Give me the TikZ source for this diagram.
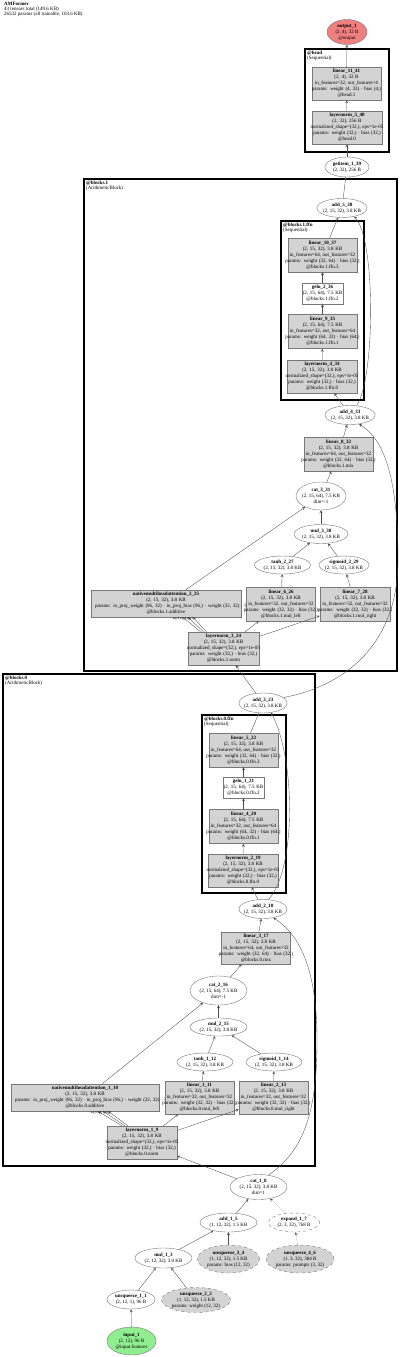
\documentclass[tikz,border=0pt]{standalone}
\usepackage{fontspec}
\setmainfont{Liberation Serif}
\usepackage{tikz}
\usetikzlibrary{shapes.geometric,arrows}

\definecolor{opgray}{RGB}{211,211,211}
\definecolor{linegray}{RGB}{120,120,120}
\definecolor{outred}{RGB}{240,128,128}
\definecolor{ingreen}{RGB}{144,238,144}
\newcommand{\nodefont}{\fontsize{5}{6}\selectfont}
\newcommand{\headfont}{\fontsize{5}{5}\selectfont}
\newcommand{\argfont}{\fontsize{3.2}{3.5}\selectfont}

\tikzset{
  opbox/.style={rectangle, draw=linegray, fill=opgray, inner ysep=0pt, inner xsep=-8pt,
    text width=85pt, minimum width=69pt, minimum height=34pt, align=center, font=\nodefont},
  opell/.style={ellipse, draw=linegray, fill=white, inner xsep=-8pt, inner ysep=-2pt,
    minimum width=50pt, minimum height=19pt, align=center, font=\nodefont},
  parell/.style={opell, fill=opgray, dashed},
  cluster/.style={draw, line width=1.5pt},
  clabel/.style={anchor=north west, align=left, inner sep=1pt, font=\headfont},
  elabel/.style={anchor=north, inner sep=0.3pt, font=\argfont},
  edge/.style={->, >=stealth, draw=black!70, line width=0.35pt},
}

\begin{document}
\begin{tikzpicture}[x=1pt, y=-1pt]
  \useasboundingbox (0,0) rectangle (400,1357);

  \node[clabel] (title) at (3,1) {\textbf{AMFormer}\\43 tensors total (149.6 KB)\\26532 params (all trainable, 103.6 KB)};

  % clusters
  \draw[cluster] (305,49) rectangle (389,152);
  \node[clabel] (headlbl) at (306,50) {\textbf{@head}\\(Sequential)};
  \draw[cluster] (84,179) rectangle (397,671);
  \node[clabel] (b1lbl) at (85,180) {\textbf{@blocks.1}\\(ArithmeticBlock)};
  \draw[cluster] (281,221) rectangle (364,400);
  \node[clabel] (b1flbl) at (282,222) {\textbf{@blocks.1.ffn}\\(Sequential)};
  \draw[cluster] (3,674) rectangle (315,1166);
  \node[clabel] (b0lbl) at (4,675) {\textbf{@blocks.0}\\(ArithmeticBlock)};
  \draw[cluster] (202,715) rectangle (286,893);
  \node[clabel] (b0flbl) at (203,716) {\textbf{@blocks.0.ffn}\\(Sequential)};

  % head
  \node[opell, fill=outred, minimum width=40pt, minimum height=25pt] (out) at (347,32) {\textbf{output\_1}\\(2, 4), 32 B\\@output};
  \node[opbox, minimum width=65pt, minimum height=33pt] (lin41) at (346.5,83.5) {\textbf{linear\_11\_41}\\(2, 4), 32 B\\in\_features=32, out\_features=4\\params: weight (4, 32) · bias (4,)\\@head.1};
  \node[opbox, minimum width=70pt, minimum height=33pt] (ln40) at (347,127.5) {\textbf{layernorm\_5\_40}\\(2, 32), 256 B\\normalized\_shape=(32,), eps=1e-05\\params: weight (32,) · bias (32,)\\@head.0};
  \node[opell, minimum width=44pt, minimum height=20pt] (get39) at (347,167) {\textbf{getitem\_1\_39}\\(2, 32), 256 B};

  % blocks.1
  \node[opell] (add38) at (342,208) {\textbf{add\_5\_38}\\(2, 15, 32), 3.8 KB};
  \node[opbox] (lin37) at (322.5,255) {\textbf{linear\_10\_37}\\(2, 15, 32), 3.8 KB\\in\_features=64, out\_features=32\\params: weight (32, 64) · bias (32,)\\@blocks.1.ffn.3};
  \node[opbox, fill=white, minimum width=41pt, minimum height=21pt, text width=57pt] (gelu36) at (322.5,293.5) {\textbf{gelu\_2\_36}\\(2, 15, 64), 7.5 KB\\@blocks.1.ffn.2};
  \node[opbox] (lin35) at (322.5,331.5) {\textbf{linear\_9\_35}\\(2, 15, 64), 7.5 KB\\in\_features=32, out\_features=64\\params: weight (64, 32) · bias (64,)\\@blocks.1.ffn.1};
  \node[opbox, minimum width=70pt, minimum height=33pt] (ln34) at (322,376.5) {\textbf{layernorm\_4\_34}\\(2, 15, 32), 3.8 KB\\normalized\_shape=(32,), eps=1e-05\\params: weight (32,) · bias (32,)\\@blocks.1.ffn.0};
  \node[opell] (add33) at (350,415) {\textbf{add\_4\_33}\\(2, 15, 32), 3.8 KB};
  \node[opbox] (lin32) at (338.5,454) {\textbf{linear\_8\_32}\\(2, 15, 32), 3.8 KB\\in\_features=64, out\_features=32\\params: weight (32, 64) · bias (32,)\\@blocks.1.mix};
  \node[opell, minimum width=50pt, minimum height=28pt] (cat31) at (321,496) {\textbf{cat\_3\_31}\\(2, 15, 64), 7.5 KB\\dim=-1};
  \node[opell, minimum width=54pt] (mul30) at (321,534) {\textbf{mul\_3\_30}\\(2, 15, 32), 3.8 KB};
  \node[opell, minimum width=56pt, minimum height=18pt] (tanh27) at (282.5,565) {\textbf{tanh\_2\_27}\\(2, 15, 32), 3.8 KB};
  \node[opell, minimum width=50pt, minimum height=18pt] (sig29) at (344,565) {\textbf{sigmoid\_2\_29}\\(2, 15, 32), 3.8 KB};
  \node[opbox, minimum width=150pt, minimum height=27pt, text width=142pt, inner xsep=4pt] (mha25) at (166,603.5) {\textbf{nativemultiheadattention\_2\_25}\\(2, 15, 32), 3.8 KB\\\mbox{params: in\_proj\_weight (96, 32) · in\_proj\_bias (96,) · weight (32, 32) · bias (32,)}\\@blocks.1.additive};
  \node[opbox, minimum width=68pt] (lin26) at (281,604) {\textbf{linear\_6\_26}\\(2, 15, 32), 3.8 KB\\in\_features=32, out\_features=32\\params: weight (32, 32) · bias (32,)\\@blocks.1.mul\_left};
  \node[opbox, minimum width=70pt] (lin28) at (355,604) {\textbf{linear\_7\_28}\\(2, 15, 32), 3.8 KB\\in\_features=32, out\_features=32\\params: weight (32, 32) · bias (32,)\\@blocks.1.mul\_right};
  \node[opbox, minimum width=71pt, minimum height=33pt] (ln24) at (223.5,648.5) {\textbf{layernorm\_3\_24}\\(2, 15, 32), 3.8 KB\\normalized\_shape=(32,), eps=1e-05\\params: weight (32,) · bias (32,)\\@blocks.1.norm};

  % blocks.0
  \node[opell, minimum width=48pt, minimum height=20pt] (add23) at (263,703) {\textbf{add\_3\_23}\\(2, 15, 32), 3.8 KB};
  \node[opbox] (lin22) at (243.5,750) {\textbf{linear\_5\_22}\\(2, 15, 32), 3.8 KB\\in\_features=64, out\_features=32\\params: weight (32, 64) · bias (32,)\\@blocks.0.ffn.3};
  \node[opbox, fill=white, minimum width=41pt, minimum height=21pt, text width=57pt] (gelu21) at (243.5,787.5) {\textbf{gelu\_1\_21}\\(2, 15, 64), 7.5 KB\\@blocks.0.ffn.2};
  \node[opbox] (lin20) at (243.5,826.5) {\textbf{linear\_4\_20}\\(2, 15, 64), 7.5 KB\\in\_features=32, out\_features=64\\params: weight (64, 32) · bias (64,)\\@blocks.0.ffn.1};
  \node[opbox, minimum width=70pt, minimum height=33pt] (ln19) at (243,870.5) {\textbf{layernorm\_2\_19}\\(2, 15, 32), 3.8 KB\\normalized\_shape=(32,), eps=1e-05\\params: weight (32,) · bias (32,)\\@blocks.0.ffn.0};
  \node[opell, minimum width=48pt] (add18) at (263,909) {\textbf{add\_2\_18}\\(2, 15, 32), 3.8 KB};
  \node[opbox, minimum width=68pt, minimum height=32pt] (lin17) at (256,948) {\textbf{linear\_3\_17}\\(2, 15, 32), 3.8 KB\\in\_features=64, out\_features=32\\params: weight (32, 64) · bias (32,)\\@blocks.0.mix};
  \node[opell, minimum width=57pt, minimum height=29pt] (cat16) at (218.5,990.5) {\textbf{cat\_2\_16}\\(2, 15, 64), 7.5 KB\\dim=-1};
  \node[opell, minimum width=57pt, minimum height=18pt] (mul15) at (218.5,1027) {\textbf{mul\_2\_15}\\(2, 15, 32), 3.8 KB};
  \node[opell, minimum width=56pt, minimum height=18pt] (tanh12) at (205,1062) {\textbf{tanh\_1\_12}\\(2, 15, 32), 3.8 KB};
  \node[opell, minimum width=56pt, minimum height=18pt] (sig14) at (274,1062) {\textbf{sigmoid\_1\_14}\\(2, 15, 32), 3.8 KB};
  \node[opbox, minimum width=148pt, minimum height=27pt, text width=140pt, inner xsep=4pt] (mha10) at (85,1097.5) {\textbf{nativemultiheadattention\_1\_10}\\(2, 15, 32), 3.8 KB\\\mbox{params: in\_proj\_weight (96, 32) · in\_proj\_bias (96,) · weight (32, 32) · bias (32,)}\\@blocks.0.additive};
  \node[opbox, minimum width=67pt, minimum height=33pt] (lin11) at (199.5,1097.5) {\textbf{linear\_1\_11}\\(2, 15, 32), 3.8 KB\\in\_features=32, out\_features=32\\params: weight (32, 32) · bias (32,)\\@blocks.0.mul\_left};
  \node[opbox, minimum height=33pt] (lin13) at (273.5,1097.5) {\textbf{linear\_2\_13}\\(2, 15, 32), 3.8 KB\\in\_features=32, out\_features=32\\params: weight (32, 32) · bias (32,)\\@blocks.0.mul\_right};
  \node[opbox, minimum width=70pt, minimum height=33pt] (ln9) at (142,1142.5) {\textbf{layernorm\_1\_9}\\(2, 15, 32), 3.8 KB\\normalized\_shape=(32,), eps=1e-05\\params: weight (32,) · bias (32,)\\@blocks.0.norm};

  % input part
  \node[opell, minimum width=57pt, minimum height=25pt] (cat8) at (258.5,1187) {\textbf{cat\_1\_8}\\(2, 15, 32), 3.8 KB\\dim=1};
  \node[opell, minimum width=57pt] (add5) at (228.5,1222.5) {\textbf{add\_1\_5}\\(1, 12, 32), 1.5 KB};
  \node[opell, dashed, minimum width=51pt] (exp7) at (294,1222.5) {\textbf{expand\_1\_7}\\(2, 3, 32), 768 B};
  \node[opell, minimum width=57pt, minimum height=20pt] (mul3) at (163.5,1258) {\textbf{mul\_1\_3}\\(2, 12, 32), 3.0 KB};
  \node[parell, minimum width=62pt, minimum height=28pt] (unsq4) at (228.5,1259) {\textbf{unsqueeze\_3\_4}\\(1, 12, 32), 1.5 KB\\params: bias (12, 32)};
  \node[parell, minimum width=68pt, minimum height=28pt] (unsq6) at (300,1259) {\textbf{unsqueeze\_4\_6}\\(1, 3, 32), 384 B\\params: prompts (3, 32)};
  \node[opell, minimum width=48pt] (unsq1) at (131,1299.5) {\textbf{unsqueeze\_1\_1}\\(2, 12, 1), 96 B};
  \node[parell, minimum width=69pt, minimum height=25pt] (unsq2) at (196,1300) {\textbf{unsqueeze\_2\_2}\\(1, 12, 32), 1.5 KB\\params: weight (12, 32)};
  \node[opell, fill=ingreen, minimum width=49pt, minimum height=28pt] (inp) at (131.5,1341) {\textbf{input\_1}\\(2, 12), 96 B\\@input.features};

  % edges
  \draw[edge] (inp) -- (unsq1);
  \draw[edge] (unsq1) -- (mul3);
  \draw[edge] (unsq2) -- (mul3);
  \draw[edge] (mul3) -- (add5);
  \draw[edge] (unsq4) -- (add5);
  \draw[edge, densely dotted] (unsq6) -- (exp7);
  \draw[edge] (add5) -- (cat8);
  \draw[edge, densely dotted] (exp7) -- (cat8);
  \draw[edge] (cat8) -- (ln9);
  \draw[edge] (cat8.50) .. controls (305,1150) and (317,1110) .. (317,1040)
    .. controls (317,970) and (300,935) .. (add18.-40);

  \foreach \i/\a/\b/\c in {0/-20/13/9, 1/-17/18/16, 2/-14/23/23} {
    \draw[edge] ([xshift=\a]ln9.north) -- ([xshift=\b]mha10.south);
    \node[elabel] (arg10\i) at ([xshift=\c]mha10.south) {arg \i};
  }
  \draw[edge] (ln9) -- (lin11);
  \draw[edge] (ln9) -- (lin13);
  \draw[edge] (lin11) -- (tanh12);
  \draw[edge] (lin13) -- (sig14);
  \draw[edge] (tanh12) -- (mul15);
  \draw[edge] (sig14) -- (mul15);
  \draw[edge] (mul15) -- (cat16);
  \draw[edge] (mha10) -- (cat16);
  \draw[edge] (cat16) -- (lin17);
  \draw[edge] (lin17) -- (add18);
  \draw[edge] (add18) -- (ln19);
  \draw[edge] (add18.60) .. controls (296,870) and (296,760) .. (add23.-50);
  \draw[edge] (ln19) -- (lin20);
  \draw[edge] (lin20) -- (gelu21);
  \draw[edge] (gelu21) -- (lin22);
  \draw[edge] (lin22) -- (add23);

  \draw[edge] (add23) -- (ln24);
  \draw[edge] (add23.15) .. controls (350,685) and (398,640) .. (398,560)
    .. controls (398,480) and (385,440) .. (add33.-45);
  \foreach \i/\a/\b/\c in {0/-23/17/10, 1/-20/22/17, 2/-17/27/24} {
    \draw[edge] ([xshift=\a]ln24.north) -- ([xshift=\b]mha25.south);
    \node[elabel] (arg25\i) at ([xshift=\c]mha25.south) {arg \i};
  }
  \draw[edge] (ln24) -- (lin26);
  \draw[edge] (ln24) -- (lin28);
  \draw[edge] (lin26) -- (tanh27);
  \draw[edge] (lin28) -- (sig29);
  \draw[edge] (tanh27) -- (mul30);
  \draw[edge] (sig29) -- (mul30);
  \draw[edge] (mul30) -- (cat31);
  \draw[edge] (mha25) -- (cat31);
  \draw[edge] (cat31) -- (lin32);
  \draw[edge] (lin32) -- (add33);
  \draw[edge] (add33) -- (ln34);
  \draw[edge] (add33.55) .. controls (375,380) and (376,240) .. (add38.-35);
  \draw[edge] (ln34) -- (lin35);
  \draw[edge] (lin35) -- (gelu36);
  \draw[edge] (gelu36) -- (lin37);
  \draw[edge] (lin37) -- (add38);

  \draw[edge] (add38) -- (get39);
  \draw[edge] (get39) -- (ln40);
  \draw[edge] (ln40) -- (lin41);
  \draw[edge] (lin41) -- (out);
\end{tikzpicture}
\end{document}
